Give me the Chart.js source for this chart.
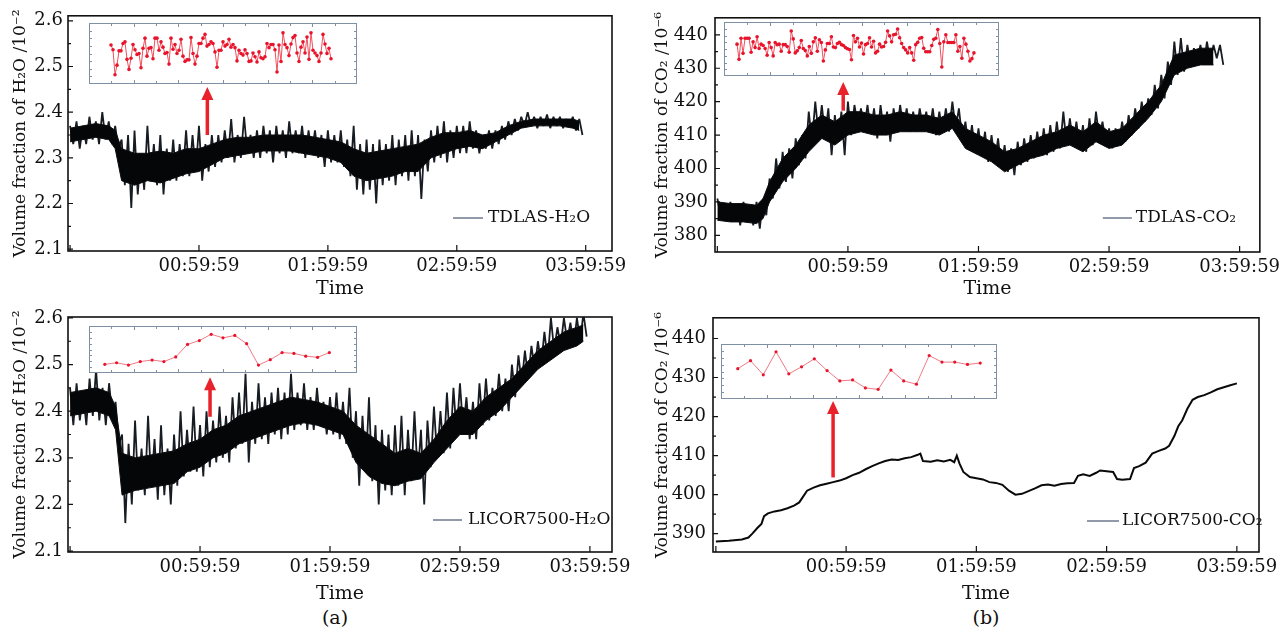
<!DOCTYPE html>
<html>
<head>
<meta charset="utf-8">
<script src="https://cdn.jsdelivr.net/npm/chart.js@4.4.1/dist/chart.umd.min.js"></script>
<style>
  html, body { margin: 0; padding: 0; background: #fff; }
  #stage { position: relative; width: 1286px; height: 635px; overflow: hidden; }
  #stage canvas { position: absolute; }
  .tag { position: absolute; top: 606px; font: 19px "DejaVu Serif", serif; color: #111; transform: translateX(-50%); }
</style>
</head>
<body>
<div id="stage">
  <canvas id="tdlasH2o" style="left:0;top:0" width="640" height="300"></canvas>
  <canvas id="licorH2o" style="left:0;top:300px" width="640" height="305"></canvas>
  <canvas id="tdlasCo2" style="left:640px;top:0" width="646" height="300"></canvas>
  <canvas id="licorCo2" style="left:640px;top:300px" width="646" height="305"></canvas>
  <canvas id="tdlasH2oZoom" style="left:89px;top:23px" width="268" height="61"></canvas>
  <canvas id="licorH2oZoom" style="left:89px;top:326px" width="268" height="47"></canvas>
  <canvas id="tdlasCo2Zoom" style="left:724px;top:22px" width="275" height="54"></canvas>
  <canvas id="licorCo2Zoom" style="left:721px;top:344px" width="276" height="55"></canvas>
  <div class="tag" style="left:335px">(a)</div>
  <div class="tag" style="left:986px">(b)</div>
</div>
<script>
// time axis, hours from start of record
const hourTicks = [0, 1, 2, 3, 4];
const hourLabels = ['', '00:59:59', '01:59:59', '02:59:59', '03:59:59'];
const h2oTicks = [2.1, 2.2, 2.3, 2.4, 2.5, 2.6];
const co2TicksTop = [380, 390, 400, 410, 420, 430, 440];
const co2TicksBottom = [390, 400, 410, 420, 430, 440];

// sample times for the spike extremes of the noisy records
const sampleHours = [
  0, 0.05, 0.1, 0.15, 0.2, 0.25, 0.3, 0.35, 0.4, 0.45,
  0.5, 0.55, 0.6, 0.65, 0.7, 0.75, 0.8, 0.85, 0.9, 0.95,
  1, 1.05, 1.1, 1.15, 1.2, 1.25, 1.3, 1.35, 1.4, 1.45,
  1.5, 1.55, 1.6, 1.65, 1.7, 1.75, 1.8, 1.85, 1.9, 1.95,
  2, 2.05, 2.1, 2.15, 2.2, 2.25, 2.3, 2.35, 2.4, 2.45,
  2.5, 2.55, 2.6, 2.65, 2.7, 2.75, 2.8, 2.85, 2.9, 2.95,
  3, 3.05, 3.1, 3.15, 3.2, 3.25, 3.3, 3.35, 3.4, 3.45,
  3.5, 3.55, 3.6, 3.65, 3.7, 3.75, 3.8, 3.85, 3.9, 3.95
];
// the lower spikes were read half a sample after the upper ones
const lowOffset = 0.025;
// sample times for the dense core of the traces
const coreHours = [
  0, 0.1, 0.2, 0.3, 0.35, 0.4, 0.5, 0.6, 0.7, 0.8,
  0.9, 1, 1.1, 1.2, 1.3, 1.4, 1.5, 1.6, 1.7, 1.8,
  1.9, 2, 2.1, 2.2, 2.3, 2.4, 2.5, 2.6, 2.7, 2.8,
  2.9, 3, 3.1, 3.2, 3.3, 3.4, 3.5, 3.6, 3.7, 3.8,
  3.9, 3.95
];

const tdlasH2oHigh = [
  2.37, 2.38, 2.37, 2.39, 2.38, 2.40, 2.38, 2.37, 2.34, 2.35,
  2.36, 2.31, 2.37, 2.33, 2.35, 2.32, 2.34, 2.33, 2.36, 2.35,
  2.37, 2.33, 2.35, 2.35, 2.36, 2.385, 2.35, 2.39, 2.35, 2.36,
  2.37, 2.36, 2.37, 2.36, 2.38, 2.36, 2.37, 2.36, 2.36, 2.35,
  2.36, 2.35, 2.36, 2.34, 2.37, 2.33, 2.34, 2.33, 2.34, 2.33,
  2.35, 2.34, 2.35, 2.36, 2.35, 2.34, 2.36, 2.37, 2.38, 2.36,
  2.37, 2.37, 2.38, 2.36, 2.35, 2.36, 2.36, 2.37, 2.38, 2.385,
  2.39, 2.40, 2.39, 2.39, 2.395, 2.39, 2.39, 2.385, 2.39, 2.385
];
const tdlasH2oLow = [
  2.33, 2.32, 2.33, 2.34, 2.33, 2.34, 2.33, 2.32, 2.24, 2.19,
  2.22, 2.23, 2.25, 2.24, 2.22, 2.25, 2.25, 2.26, 2.26, 2.27,
  2.25, 2.27, 2.28, 2.29, 2.30, 2.29, 2.30, 2.31, 2.30, 2.30,
  2.31, 2.29, 2.31, 2.30, 2.31, 2.31, 2.30, 2.31, 2.30, 2.28,
  2.29, 2.29, 2.28, 2.26, 2.23, 2.22, 2.23, 2.20, 2.24, 2.25,
  2.24, 2.26, 2.25, 2.26, 2.21, 2.27, 2.29, 2.30, 2.29, 2.30,
  2.31, 2.31, 2.32, 2.31, 2.32, 2.32, 2.33, 2.34, 2.35, 2.36,
  2.37, 2.37, 2.365, 2.37, 2.365, 2.37, 2.365, 2.37, 2.36, 2.35
];
const tdlasH2oCoreTop = [
  2.365, 2.37, 2.375, 2.37, 2.36, 2.32, 2.31, 2.31, 2.315, 2.31,
  2.32, 2.32, 2.33, 2.34, 2.345, 2.345, 2.35, 2.35, 2.35, 2.35,
  2.345, 2.34, 2.335, 2.32, 2.31, 2.315, 2.32, 2.325, 2.33, 2.345,
  2.355, 2.355, 2.36, 2.35, 2.355, 2.37, 2.38, 2.385, 2.385, 2.385,
  2.385, 2.38
];
const tdlasH2oCoreBottom = [
  2.335, 2.34, 2.345, 2.34, 2.32, 2.25, 2.24, 2.25, 2.245, 2.255,
  2.265, 2.27, 2.285, 2.30, 2.305, 2.31, 2.315, 2.315, 2.315, 2.31,
  2.305, 2.30, 2.29, 2.26, 2.25, 2.255, 2.26, 2.27, 2.27, 2.30,
  2.31, 2.32, 2.325, 2.32, 2.335, 2.35, 2.365, 2.37, 2.37, 2.37,
  2.365, 2.36
];

const licorH2oHigh = [
  2.45, 2.46, 2.44, 2.47, 2.49, 2.45, 2.46, 2.42, 2.35, 2.33,
  2.38, 2.32, 2.39, 2.34, 2.37, 2.32, 2.35, 2.40, 2.36, 2.41,
  2.37, 2.40, 2.38, 2.41, 2.39, 2.43, 2.44, 2.48, 2.42, 2.46,
  2.43, 2.44, 2.45, 2.44, 2.48, 2.44, 2.46, 2.43, 2.45, 2.42,
  2.43, 2.44, 2.42, 2.45, 2.40, 2.39, 2.43, 2.37, 2.36, 2.35,
  2.37, 2.39, 2.36, 2.40, 2.36, 2.38, 2.41, 2.40, 2.44, 2.45,
  2.46, 2.43, 2.42, 2.46, 2.47, 2.45, 2.48, 2.47, 2.50, 2.52,
  2.53, 2.54, 2.55, 2.57, 2.60, 2.58, 2.60, 2.59, 2.60, 2.61
];
const licorH2oLow = [
  2.37, 2.38, 2.37, 2.39, 2.38, 2.37, 2.39, 2.33, 2.16, 2.20,
  2.23, 2.22, 2.24, 2.21, 2.22, 2.20, 2.24, 2.26, 2.27, 2.27,
  2.26, 2.28, 2.29, 2.30, 2.29, 2.32, 2.33, 2.29, 2.33, 2.34,
  2.33, 2.35, 2.34, 2.35, 2.36, 2.37, 2.36, 2.36, 2.37, 2.35,
  2.35, 2.34, 2.33, 2.30, 2.24, 2.27, 2.25, 2.20, 2.23, 2.22,
  2.24, 2.22, 2.25, 2.26, 2.20, 2.28, 2.30, 2.31, 2.32, 2.35,
  2.36, 2.34, 2.34, 2.37, 2.38, 2.39, 2.40, 2.40, 2.43, 2.46,
  2.47, 2.49, 2.50, 2.51, 2.53, 2.54, 2.55, 2.54, 2.55, 2.56
];
const licorH2oCoreTop = [
  2.44, 2.445, 2.45, 2.44, 2.41, 2.31, 2.30, 2.305, 2.31, 2.315,
  2.33, 2.34, 2.36, 2.37, 2.39, 2.40, 2.41, 2.42, 2.43, 2.425,
  2.42, 2.41, 2.40, 2.37, 2.35, 2.33, 2.31, 2.32, 2.31, 2.34,
  2.38, 2.41, 2.40, 2.43, 2.45, 2.47, 2.50, 2.53, 2.55, 2.57,
  2.58, 2.585
];
const licorH2oCoreBottom = [
  2.39, 2.395, 2.40, 2.39, 2.36, 2.22, 2.23, 2.235, 2.24, 2.245,
  2.27, 2.28, 2.30, 2.31, 2.33, 2.34, 2.35, 2.36, 2.37, 2.375,
  2.37, 2.36, 2.35, 2.29, 2.26, 2.245, 2.24, 2.25, 2.255, 2.29,
  2.32, 2.35, 2.35, 2.38, 2.40, 2.43, 2.46, 2.49, 2.51, 2.53,
  2.54, 2.55
];

const tdlasCo2High = [
  391, 389, 390, 389, 390, 389, 390, 391, 397, 403,
  405, 406, 409, 410, 417, 420, 419, 418, 416, 417,
  420, 419, 418, 419, 418, 419, 417, 418, 419, 418,
  417, 418, 417, 418, 417, 418, 420, 418, 414, 413,
  412, 411, 410, 409, 407, 406, 408, 409, 410, 411,
  412, 413, 414, 417, 415, 414, 413, 415, 417, 414,
  412, 412, 414, 416, 418, 420, 421, 425, 428, 432,
  438, 439, 437, 436, 437, 438, 437, 437
];
const tdlasCo2Low = [
  386, 384, 385, 383, 384, 383, 382, 386, 391, 394,
  396, 397, 401, 403, 408, 410, 410, 404, 408, 404,
  410, 413, 412, 411, 409, 411, 408, 411, 412, 411,
  411, 412, 411, 410, 411, 411, 412, 409, 406, 405,
  404, 402, 402, 400, 399, 398, 401, 402, 403, 404,
  404, 405, 406, 407, 407, 406, 405, 407, 409, 407,
  406, 407, 408, 410, 412, 414, 416, 418, 421, 425,
  428, 429, 431, 432, 431, 432, 433, 431
];
const tdlasCo2CoreTop = [
  390, 389.5, 389.5, 389, 391, 396, 403, 407, 413, 416,
  414, 417, 417, 416, 416, 417, 416, 416, 415, 417,
  412, 410, 408, 405, 406, 408, 410, 411, 413, 411,
  414, 411, 412, 416, 420, 425, 434, 435, 436, 436
];
const tdlasCo2CoreBottom = [
  384.5, 384, 384, 383.5, 385, 390, 396, 400, 405, 409,
  407, 410, 411, 410, 410, 411, 411, 411, 410, 412,
  406, 404, 402, 399, 401, 403, 404, 406, 407, 405,
  408, 406, 407, 411, 415, 420, 428, 430, 431, 431
];

const licorCo2Hours = [
  0, 0.1, 0.2, 0.25, 0.28, 0.32, 0.35, 0.37, 0.4, 0.45,
  0.5, 0.55, 0.6, 0.64, 0.67, 0.7, 0.75, 0.8, 0.85, 0.9,
  0.95, 1, 1.05, 1.1, 1.15, 1.2, 1.25, 1.3, 1.35, 1.4,
  1.45, 1.5, 1.55, 1.57, 1.59, 1.65, 1.7, 1.75, 1.8, 1.83,
  1.85, 1.87, 1.9, 1.95, 2, 2.05, 2.1, 2.15, 2.2, 2.25,
  2.3, 2.35, 2.4, 2.45, 2.5, 2.55, 2.6, 2.65, 2.7, 2.75,
  2.78, 2.82, 2.87, 2.92, 2.95, 3, 3.05, 3.08, 3.12, 3.18,
  3.21, 3.25, 3.3, 3.35, 3.4, 3.45, 3.48, 3.52, 3.55, 3.58,
  3.62, 3.66, 3.7, 3.75, 3.8, 3.85, 3.9, 3.95, 4
];
const licorCo2Values = [
  388.0, 388.2, 388.5, 389.0, 390.0, 391.5, 392.5, 394.5, 395.2, 395.7,
  396.0, 396.5, 397.2, 398.0, 399.5, 401.0, 401.8, 402.4, 402.8, 403.2,
  403.6, 404.2, 405.0, 405.6, 406.5, 407.3, 408.0, 408.6, 409.0, 408.9,
  409.3, 409.6, 410.2, 410.5, 408.6, 408.4, 408.8, 408.5, 408.9, 408.3,
  410.0, 408.0, 405.8, 404.5, 404.2, 403.9, 403.2, 403.0, 402.5, 401.0,
  400.0, 400.2, 400.9, 401.6, 402.4, 402.6, 402.3, 402.7, 402.9, 403.0,
  404.8, 405.2, 404.8, 405.6, 406.2, 406.0, 405.8, 404.0, 403.8, 404.0,
  406.8, 407.3, 408.2, 410.5, 411.2, 411.8, 412.5, 415.0, 417.5, 419.0,
  422.0, 424.3, 425.0, 425.5, 426.2, 427.0, 427.5, 428.0, 428.5
];

// zoomed-in segments shown in the insets (no axis labels in the source)
const tdlasH2oZoom = [
  2.366, 2.357, 2.310, 2.328, 2.355, 2.355, 2.369, 2.372, 2.339, 2.320,
  2.341, 2.367, 2.357, 2.348, 2.350, 2.323, 2.360, 2.379, 2.345, 2.360,
  2.361, 2.340, 2.379, 2.379, 2.356, 2.372, 2.362, 2.350, 2.352, 2.330,
  2.379, 2.358, 2.367, 2.350, 2.356, 2.377, 2.345, 2.335, 2.338, 2.338,
  2.380, 2.350, 2.330, 2.345, 2.369, 2.369, 2.379, 2.386, 2.364, 2.367,
  2.372, 2.369, 2.353, 2.324, 2.356, 2.356, 2.372, 2.364, 2.367, 2.377,
  2.362, 2.367, 2.361, 2.336, 2.356, 2.350, 2.347, 2.357, 2.350, 2.335,
  2.336, 2.351, 2.344, 2.334, 2.353, 2.342, 2.340, 2.344, 2.369, 2.361,
  2.367, 2.367, 2.357, 2.315, 2.366, 2.335, 2.389, 2.367, 2.361, 2.346,
  2.368, 2.380, 2.384, 2.351, 2.335, 2.362, 2.372, 2.351, 2.381, 2.339,
  2.389, 2.356, 2.351, 2.346, 2.335, 2.351, 2.386, 2.368, 2.350, 2.360,
  2.340
];
const licorH2oZoom = [
  2.292, 2.296, 2.290, 2.299, 2.303, 2.299, 2.311, 2.343, 2.353, 2.369,
  2.360, 2.366, 2.345, 2.290, 2.304, 2.322, 2.320, 2.313, 2.310, 2.322
];
const tdlasCo2Zoom = [
  432.1, 425.5, 434.7, 428.1, 434.7, 434.7, 434.7, 428.6, 433.1, 430.6,
  435.3, 430.2, 432.1, 431.5, 430.2, 427.3, 432.8, 430.6, 427.0, 432.8,
  431.9, 432.1, 429.0, 431.9, 431.9, 431.1, 428.6, 437.8, 434.4, 428.3,
  429.2, 430.6, 433.7, 430.2, 429.3, 427.0, 431.1, 428.1, 433.1, 434.9,
  429.0, 434.0, 432.8, 424.8, 429.6, 432.4, 432.4, 435.3, 430.9, 430.6,
  432.4, 432.9, 431.9, 431.5, 430.6, 430.1, 429.8, 425.3, 435.9, 433.1,
  434.7, 430.9, 432.6, 427.8, 431.9, 432.4, 434.9, 430.9, 433.4, 428.3,
  429.0, 432.1, 430.9, 431.1, 432.9, 437.8, 435.7, 433.1, 436.2, 436.4,
  438.7, 434.9, 432.4, 430.6, 429.6, 428.3, 430.6, 428.3, 425.1, 431.9,
  432.9, 434.7, 435.0, 430.3, 428.8, 428.8, 428.8, 431.5, 434.2, 434.7,
  438.5, 432.4, 422.2, 433.1, 436.2, 432.8, 432.8, 432.8, 432.8, 436.2,
  429.0, 431.1, 426.0, 434.7, 432.1, 429.0, 424.8, 425.8, 428.3
];
const licorCo2Zoom = [
  405.6, 407.3, 404.3, 409.2, 404.5, 406.0, 407.7, 405.2, 403.0, 403.2,
  401.5, 401.2, 405.3, 403.0, 402.3, 408.4, 407.0, 407.0, 406.5, 406.8
];

Chart.defaults.font.family = '"DejaVu Serif", serif';
Chart.defaults.color = '#111';

const toPoints = (xs, ys) => ys.map((y, i) => ({ x: xs[i], y }));

// trace that swings between the upper and lower spike readings
function zigzag(high, low) {
  const pts = [];
  high.forEach((h, i) => {
    pts.push({ x: sampleHours[i], y: h });
    pts.push({ x: sampleHours[i] + lowOffset, y: low[i] });
  });
  return pts;
}

// box, inward ticks, legend and red arrow for each main panel
const framePlugin = {
  id: 'frame',
  afterDatasetsDraw(chart, args, opts) {
    const { ctx, chartArea: a, scales: { x, y } } = chart;
    ctx.save();

    const arrow = opts.arrow;
    if (arrow) {
      const ax = x.getPixelForValue(arrow.x);
      const y0 = y.getPixelForValue(arrow.from);
      const y1 = y.getPixelForValue(arrow.to);
      ctx.strokeStyle = '#e8212b';
      ctx.fillStyle = '#e8212b';
      ctx.lineWidth = 3.5;
      ctx.beginPath();
      ctx.moveTo(ax, y0);
      ctx.lineTo(ax, y1 + 10);
      ctx.stroke();
      ctx.beginPath();
      ctx.moveTo(ax, y1);
      ctx.lineTo(ax - 6, y1 + 13);
      ctx.lineTo(ax + 6, y1 + 13);
      ctx.closePath();
      ctx.fill();
    }

    const lg = opts.legend;
    if (lg) {
      const ly = a.bottom - lg.dy;
      ctx.strokeStyle = '#4a5870';
      ctx.lineWidth = 1.2;
      ctx.beginPath();
      ctx.moveTo(a.right - lg.start, ly);
      ctx.lineTo(a.right - lg.end, ly);
      ctx.stroke();
      ctx.fillStyle = '#111';
      ctx.font = '17px "DejaVu Serif", serif';
      ctx.textBaseline = 'middle';
      ctx.fillText(lg.text, a.right - lg.textAt, ly);
    }

    ctx.strokeStyle = '#111';
    ctx.lineWidth = 1.6;
    ctx.strokeRect(a.left, a.top, a.right - a.left, a.bottom - a.top);

    ctx.lineWidth = 1.2;
    ctx.beginPath();
    x.ticks.forEach((t) => {
      const px = x.getPixelForValue(t.value);
      ctx.moveTo(px, a.bottom);
      ctx.lineTo(px, a.bottom - 6);
    });
    const yt = y.ticks.map((t) => t.value);
    yt.forEach((v, i) => {
      const py = y.getPixelForValue(v);
      ctx.moveTo(a.left, py);
      ctx.lineTo(a.left + 5, py);
      if (i < yt.length - 1) {
        const pm = y.getPixelForValue((v + yt[i + 1]) / 2);
        ctx.moveTo(a.left, pm);
        ctx.lineTo(a.left + 3, pm);
      }
    });
    ctx.stroke();
    ctx.restore();
  }
};

function drawPanel(id, p) {
  const datasets = p.low
    ? [
        { data: toPoints(coreHours, p.coreBottom), borderColor: '#0b0d10', borderWidth: 1, pointRadius: 0, fill: false },
        { data: toPoints(coreHours, p.coreTop), borderColor: '#0b0d10', borderWidth: 1, pointRadius: 0, fill: '-1', backgroundColor: '#050608' },
        { data: zigzag(p.high, p.low), borderColor: '#171c23', borderWidth: 1.8, borderJoinStyle: 'bevel', pointRadius: 0, fill: false }
      ]
    : [
        { data: toPoints(p.hours, p.values), borderColor: '#0a0a0a', borderWidth: 2, pointRadius: 0, fill: false }
      ];

  return new Chart(document.getElementById(id), {
    type: 'line',
    data: { datasets },
    options: {
      responsive: false,
      animation: false,
      events: [],
      layout: { padding: p.padding },
      plugins: {
        legend: { display: false },
        tooltip: { enabled: false },
        frame: { arrow: p.arrow, legend: p.legend }
      },
      scales: {
        x: {
          type: 'linear',
          min: p.xMin,
          max: p.xMax,
          afterBuildTicks: (s) => { s.ticks = hourTicks.map((v) => ({ value: v })); },
          afterFit: (s) => { s.height = p.xHeight; },
          ticks: {
            autoSkip: false,
            maxRotation: 0,
            padding: 5,
            font: { size: 18 },
            callback: (v, i) => hourLabels[i]
          },
          grid: { display: false, drawTicks: false },
          border: { display: false },
          title: { display: true, text: 'Time', font: { size: 19 }, padding: { top: 0, bottom: 0 } }
        },
        y: {
          type: 'linear',
          min: p.yMin,
          max: p.yMax,
          afterBuildTicks: (s) => { s.ticks = p.yTicks.map((v) => ({ value: v })); },
          afterFit: (s) => { s.width = p.yWidth; },
          ticks: {
            padding: p.yPad,
            font: { size: 18 },
            callback: p.yFormat
          },
          grid: { display: false, drawTicks: false },
          border: { display: false },
          title: { display: true, text: p.yTitle, font: { size: 17 }, padding: { top: p.yTitlePad, bottom: 0 } }
        }
      }
    },
    plugins: [framePlugin]
  });
}

// white box with small tick marks round the inset
const insetPlugin = {
  id: 'insetFrame',
  beforeDraw(chart) {
    const { ctx, width, height } = chart;
    ctx.save();
    ctx.fillStyle = '#fff';
    ctx.fillRect(0, 0, width, height);
    ctx.restore();
  },
  afterDraw(chart) {
    const { ctx, width: w, height: h } = chart;
    ctx.save();
    ctx.strokeStyle = '#7f90a2';
    ctx.lineWidth = 1;
    ctx.strokeRect(0.5, 0.5, w - 1, h - 1);
    ctx.beginPath();
    for (let i = 1; i < 12; i++) {
      const px = Math.round((w * i) / 12) + 0.5;
      const len = i % 2 ? 2 : 3;
      ctx.moveTo(px, h - 1);
      ctx.lineTo(px, h - 1 - len);
      ctx.moveTo(px, 1);
      ctx.lineTo(px, 1 + len);
    }
    for (let j = 1; j < 8; j++) {
      const py = Math.round((h * j) / 8) + 0.5;
      ctx.moveTo(1, py);
      ctx.lineTo(3, py);
      ctx.moveTo(w - 1, py);
      ctx.lineTo(w - 3, py);
    }
    ctx.stroke();
    ctx.restore();
  }
};

function drawInset(id, values, p) {
  return new Chart(document.getElementById(id), {
    type: 'line',
    data: {
      datasets: [{
        data: values.map((v, i) => ({ x: i, y: v })),
        borderColor: p.lineColor,
        borderWidth: 1,
        pointRadius: p.dot,
        pointBackgroundColor: '#e8142c',
        pointBorderWidth: 0,
        tension: 0
      }]
    },
    options: {
      responsive: false,
      animation: false,
      events: [],
      layout: { padding: 0 },
      plugins: { legend: { display: false }, tooltip: { enabled: false } },
      scales: {
        x: { type: 'linear', display: false, min: p.xMin, max: p.xMax },
        y: { type: 'linear', display: false, min: p.yMin, max: p.yMax }
      }
    },
    plugins: [insetPlugin]
  });
}

const h2oTitle = 'Volume fraction of H\u2082O /10\u207B\u00B2';
const co2Title = 'Volume fraction of CO\u2082 /10\u207B\u2076';

drawPanel('tdlasH2o', {
  low: tdlasH2oLow, high: tdlasH2oHigh, coreTop: tdlasH2oCoreTop, coreBottom: tdlasH2oCoreBottom,
  padding: { top: 15, right: 28, left: 0, bottom: 0 },
  xMin: -0.016, xMax: 4.204, xHeight: 49,
  yMin: 2.096, yMax: 2.611, yTicks: h2oTicks, yWidth: 68, yPad: 5, yTitlePad: 10,
  yFormat: (v) => v.toFixed(1), yTitle: h2oTitle,
  arrow: { x: 1.065, from: 2.35, to: 2.455 },
  legend: { text: 'TDLAS-H\u2082O', start: 159, end: 129, textAt: 124, dy: 33 }
});

drawPanel('licorH2o', {
  low: licorH2oLow, high: licorH2oHigh, coreTop: licorH2oCoreTop, coreBottom: licorH2oCoreBottom,
  padding: { top: 17, right: 28, left: 0, bottom: 0 },
  xMin: -0.016, xMax: 4.17, xHeight: 53,
  yMin: 2.098, yMax: 2.602, yTicks: h2oTicks, yWidth: 68, yPad: 5, yTitlePad: 10,
  yFormat: (v) => v.toFixed(1), yTitle: h2oTitle,
  arrow: { x: 1.077, from: 2.388, to: 2.473 },
  legend: { text: 'LICOR7500-H\u2082O', start: 179, end: 150, textAt: 144, dy: 32 }
});

drawPanel('tdlasCo2', {
  low: tdlasCo2Low, high: tdlasCo2High, coreTop: tdlasCo2CoreTop, coreBottom: tdlasCo2CoreBottom,
  padding: { top: 15, right: 26, left: 0, bottom: 0 },
  xMin: -0.018, xMax: 4.155, xHeight: 48,
  yMin: 375, yMax: 445.1, yTicks: co2TicksTop, yWidth: 75, yPad: 7, yTitlePad: 12,
  yFormat: (v) => String(v), yTitle: co2Title,
  arrow: { x: 0.964, from: 417.3, to: 425.9 },
  legend: { text: 'TDLAS-CO\u2082', start: 157, end: 128, textAt: 124, dy: 34 }
});

drawPanel('licorCo2', {
  hours: licorCo2Hours, values: licorCo2Values,
  padding: { top: 15, right: 27, left: 0, bottom: 0 },
  xMin: -0.022, xMax: 4.17, xHeight: 53,
  yMin: 385.3, yMax: 445.3, yTicks: co2TicksBottom, yWidth: 73, yPad: 7, yTitlePad: 12,
  yFormat: (v) => String(v), yTitle: co2Title,
  arrow: { x: 0.9, from: 404.4, to: 424 },
  legend: { text: 'LICOR7500-CO\u2082', start: 172, end: 140, textAt: 137, dy: 31 }
});

drawInset('tdlasH2oZoom', tdlasH2oZoom, { xMin: -9, xMax: 121, yMin: 2.30, yMax: 2.40, dot: 1.8, lineColor: '#f0505e' });
drawInset('licorH2oZoom', licorH2oZoom, { xMin: -1, xMax: 21, yMin: 2.28, yMax: 2.38, dot: 1.6, lineColor: '#f07a86' });
drawInset('tdlasCo2Zoom', tdlasCo2Zoom, { xMin: -4.5, xMax: 128.5, yMin: 420, yMax: 440, dot: 1.8, lineColor: '#f0505e' });
drawInset('licorCo2Zoom', licorCo2Zoom, { xMin: -1, xMax: 20, yMin: 400, yMax: 410, dot: 1.6, lineColor: '#f07a86' });
</script>
</body>
</html>
